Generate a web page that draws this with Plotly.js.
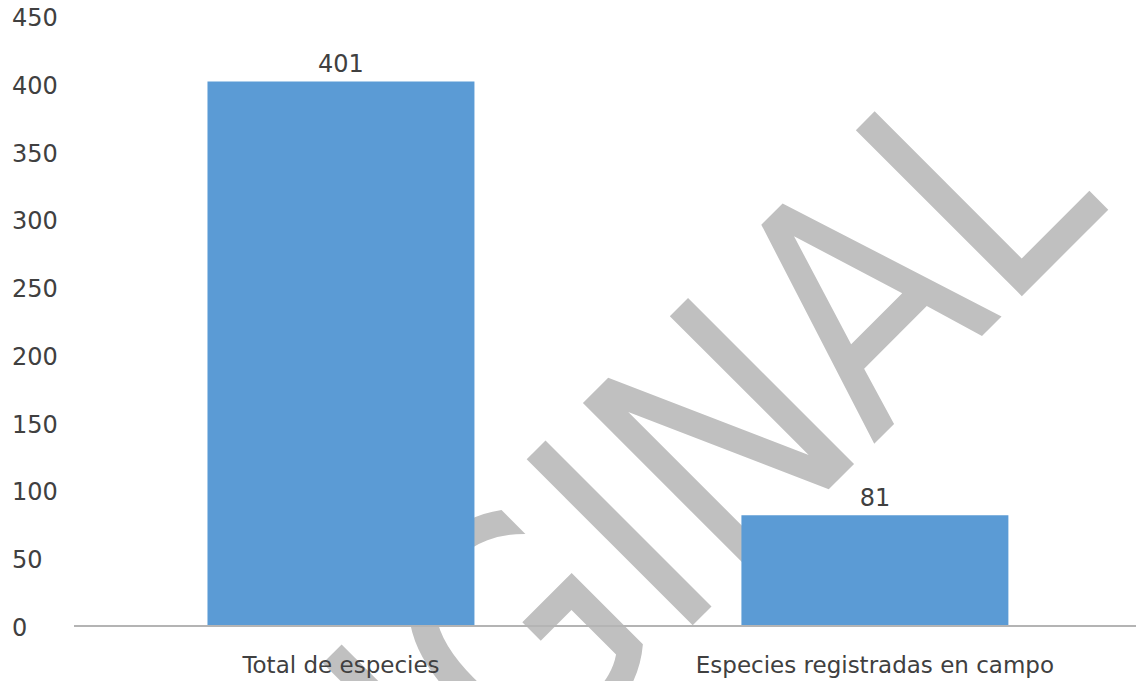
<!DOCTYPE html>
<html>
<head>
<meta charset="utf-8">
<script src="https://cdn.plot.ly/plotly-3.0.1.min.js"></script>
<style>
  html, body { margin: 0; padding: 0; background: #ffffff; }
  #wrap { position: relative; width: 1136px; height: 681px; overflow: hidden; }
  #wm { position: absolute; left: 570px; top: 591px; width: 0; height: 0; z-index: 0; }
  #wm span {
    position: absolute; left: 0; top: 0;
    font-family: "DejaVu Sans", sans-serif; font-size: 322px; line-height: 322px;
    color: #C0C0C0; white-space: nowrap;
    transform: translate(-50%, -50%) rotate(-45deg) scaleX(0.837);
  }
  #chart { position: absolute; left: 0; top: 0; width: 1136px; height: 681px; z-index: 1; }
</style>
</head>
<body>
<div id="wrap">
  <div id="wm"><span>ORIGINAL</span></div>
  <div id="chart"></div>
</div>
<script>
// Data
const categories = ["Total de especies", "Especies registradas en campo"];
const values = [401, 81];
const yTickValues = [0, 50, 100, 150, 200, 250, 300, 350, 400, 450];
const yTickLabels = ["0", "50", "100", "150", "200", "250", "300", "350", "400", "450"];

const textColor = "#404040";
const fontFam = "DejaVu Sans, sans-serif";

const trace = {
  type: "bar",
  x: categories,
  y: values,
  width: 0.5,
  marker: { color: "#5B9BD5" },
  text: values.map(String),
  textposition: "outside",
  cliponaxis: false,
  textfont: { family: fontFam, size: 24, color: textColor },
  hoverinfo: "skip"
};

const annotations = yTickValues.map((v, i) => ({
  xref: "paper", yref: "y",
  x: (10 - 74) / 1062, y: v,
  xanchor: "left", yanchor: "middle",
  yshift: -3,
  text: yTickLabels[i],
  showarrow: false,
  font: { family: fontFam, size: 24, color: textColor }
}));

const layout = {
  width: 1136, height: 681,
  margin: { l: 74, r: 0, t: 15, b: 56, pad: 0 },
  paper_bgcolor: "rgba(0,0,0,0)",
  plot_bgcolor: "rgba(0,0,0,0)",
  showlegend: false,
  font: { family: fontFam, color: textColor },
  xaxis: {
    type: "category",
    range: [-0.5, 1.489],
    showline: true, linecolor: "#B4B4B4", linewidth: 2,
    showgrid: false, zeroline: false,
    ticks: "outside", ticklen: 18, tickcolor: "rgba(0,0,0,0)",
    tickfont: { family: fontFam, size: 23, color: textColor },
    automargin: false
  },
  yaxis: {
    range: [0, 450],
    tickvals: yTickValues,
    showticklabels: false,
    showgrid: false, zeroline: false, showline: false, ticks: "",
    automargin: false
  },
  annotations: annotations
};

Plotly.newPlot("chart", [trace], layout, { displayModeBar: false, staticPlot: true });
</script>
</body>
</html>
